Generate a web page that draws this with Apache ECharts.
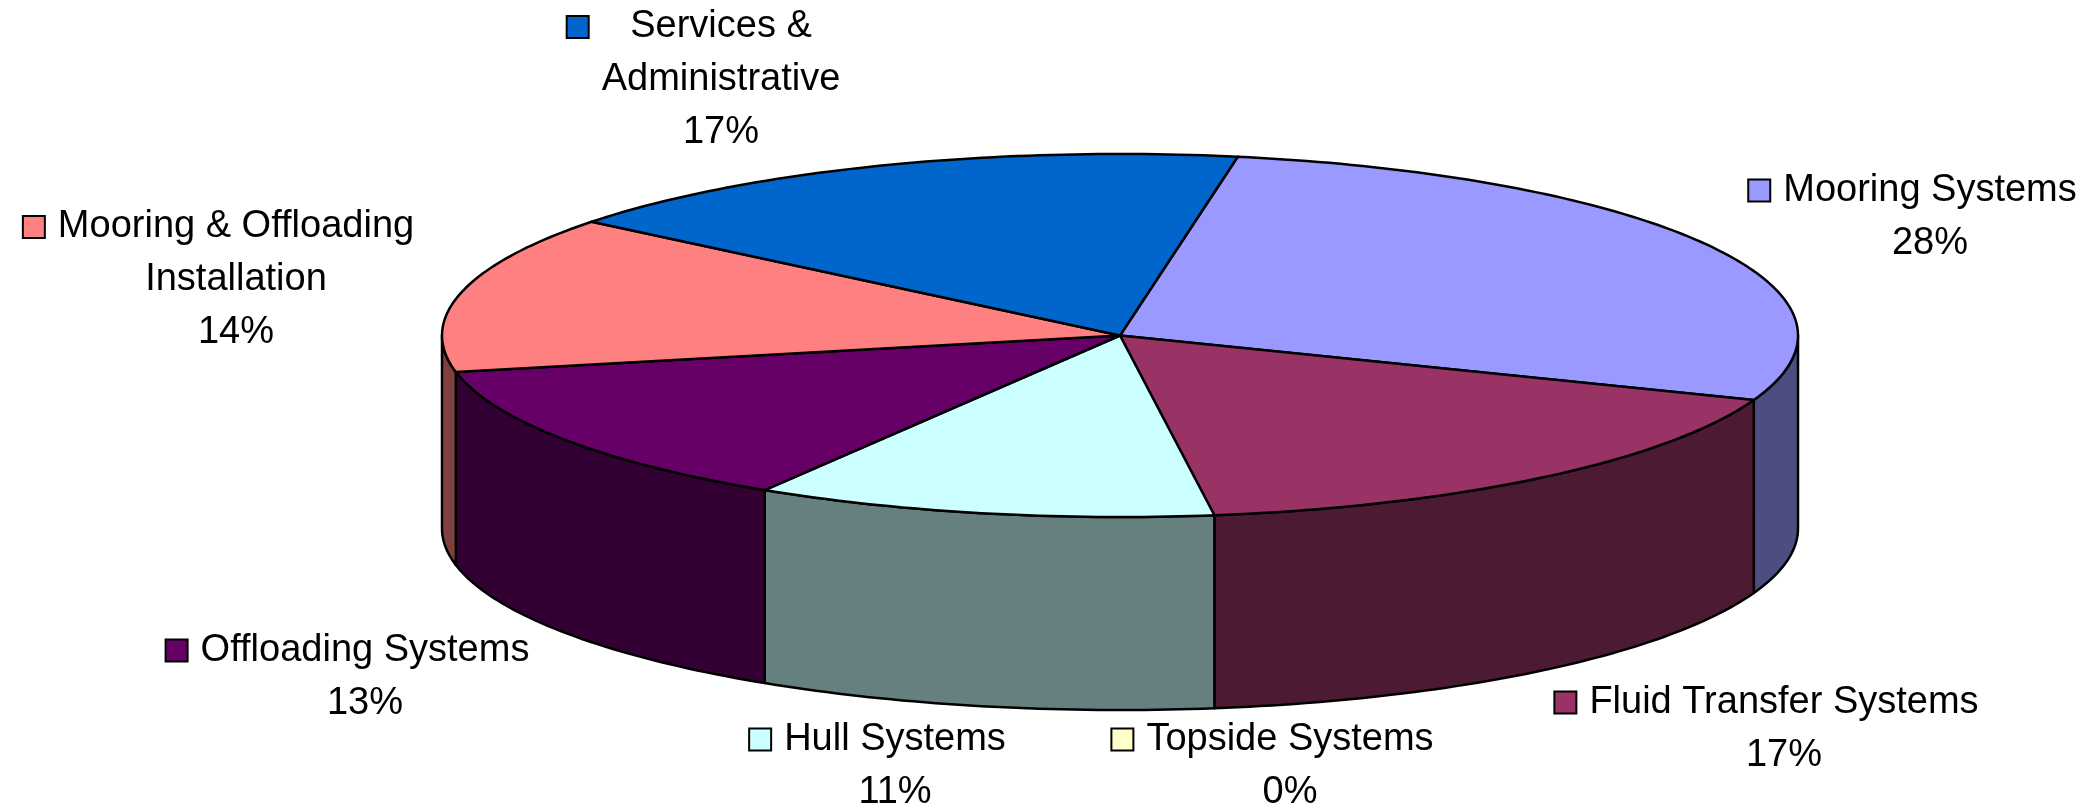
<!DOCTYPE html>
<html>
<head>
<meta charset="utf-8">
<script src="https://cdn.jsdelivr.net/npm/echarts@6/dist/echarts.min.js"></script>
<style>
  html, body { margin: 0; padding: 0; background: #ffffff; }
  #chart { width: 2093px; height: 812px; }
</style>
</head>
<body>
<div id="chart"></div>
<script>
// Cost breakdown by system (percent of total)
const categories = [
  'Mooring Systems',
  'Fluid Transfer Systems',
  'Topside Systems',
  'Hull Systems',
  'Offloading Systems',
  'Mooring & Offloading Installation',
  'Services & Administrative'
];
const labelNames = [
  'Mooring Systems',
  'Fluid Transfer Systems',
  'Topside Systems',
  'Hull Systems',
  'Offloading Systems',
  'Mooring & Offloading\nInstallation',
  'Services &\nAdministrative'
];
const shares = [28, 17, 0, 11, 13, 14, 17];
const colors = ['#9999FF', '#993366', '#FFFFCC', '#CCFFFF', '#660066', '#FF8080', '#0066CC'];

// Layout of the tilted pie (pixels) and where each label block is centred
const PIE = { cx: 1120, cy: 335.5, rx: 678, ry: 181.5, depth: 193, startDeg: 10 };
const labelSpots = [[1930, 217], [1784, 729], [1290, 766], [895, 766], [365, 677], [236, 280], [721, 80]];
const FONT_FAMILY = '"Liberation Sans", Arial, Helvetica, sans-serif';
const FONT_SIZE = 38;
const LINE_H = 53;
const KEY = 22;
const KEY_GAP = 13;
const EDGE_W = 2.5;

const total = shares.reduce((a, b) => a + b, 0);
const bounds = [];
let acc = 0;
shares.forEach(v => {
  const a1 = PIE.startDeg + 360 * acc / total;
  acc += v;
  const a2 = PIE.startDeg + 360 * acc / total;
  bounds.push([a1, a2]);
});

function shade(hex, f) {
  const n = parseInt(hex.slice(1), 16);
  const r = Math.round(((n >> 16) & 255) * f);
  const g = Math.round(((n >> 8) & 255) * f);
  const b = Math.round((n & 255) * f);
  return 'rgb(' + r + ',' + g + ',' + b + ')';
}
function ellipsePt(deg, dy) {
  const t = deg * Math.PI / 180;
  return [PIE.cx + PIE.rx * Math.sin(t), PIE.cy - PIE.ry * Math.cos(t) + (dy || 0)];
}
function arcPts(a1, a2, dy) {
  const pts = [];
  const n = Math.max(2, Math.ceil(Math.abs(a2 - a1)));
  for (let i = 0; i <= n; i++) pts.push(ellipsePt(a1 + (a2 - a1) * i / n, dy));
  return pts;
}

const measureCtx = document.createElement('canvas').getContext('2d');
measureCtx.font = FONT_SIZE + 'px ' + FONT_FAMILY;

const seriesData = shares.map((v, i) => ({ name: categories[i], value: [i, v] }));

const chart = echarts.init(document.getElementById('chart'), null, { renderer: 'canvas' });

chart.setOption({
  backgroundColor: '#ffffff',
  animation: false,
  series: [
    {
      // outer rim of the front half of the disc
      type: 'custom',
      coordinateSystem: 'none',
      silent: true,
      z: 1,
      data: seriesData,
      renderItem: function (params, api) {
        const i = api.value(0);
        if (!(api.value(1) > 0)) return { type: 'group', children: [] };
        const [a1, a2] = bounds[i];
        const lo = Math.max(a1, 90), hi = Math.min(a2, 270);
        if (hi <= lo) return { type: 'group', children: [] };
        const pts = arcPts(lo, hi, 0).concat(arcPts(lo, hi, PIE.depth).reverse());
        return {
          type: 'polygon',
          shape: { points: pts },
          style: { fill: shade(colors[i], 0.5), stroke: '#000000', lineWidth: EDGE_W, lineJoin: 'round' }
        };
      }
    },
    {
      // top faces of the slices
      type: 'custom',
      coordinateSystem: 'none',
      silent: true,
      z: 2,
      data: seriesData,
      renderItem: function (params, api) {
        const i = api.value(0);
        if (!(api.value(1) > 0)) return { type: 'group', children: [] };
        const [a1, a2] = bounds[i];
        const pts = [[PIE.cx, PIE.cy]].concat(arcPts(a1, a2, 0));
        return {
          type: 'polygon',
          shape: { points: pts },
          style: { fill: colors[i], stroke: '#000000', lineWidth: EDGE_W, lineJoin: 'round' }
        };
      }
    },
    {
      // data labels with legend keys
      type: 'custom',
      coordinateSystem: 'none',
      silent: true,
      z: 3,
      data: seriesData,
      renderItem: function (params, api) {
        const i = api.value(0);
        const v = api.value(1);
        const text = labelNames[i] + '\n' + v + '%';
        const lines = text.split('\n');
        let maxW = 0;
        lines.forEach(l => { maxW = Math.max(maxW, measureCtx.measureText(l).width); });
        const [x, y] = labelSpots[i];
        const firstLineY = y - (lines.length - 1) / 2 * LINE_H;
        return {
          type: 'group',
          children: [
            {
              type: 'text',
              x: x,
              y: y,
              style: {
                text: text,
                fill: '#000000',
                fontSize: FONT_SIZE,
                fontFamily: FONT_FAMILY,
                align: 'center',
                verticalAlign: 'middle',
                textAlign: 'center',
                textVerticalAlign: 'middle',
                lineHeight: LINE_H
              }
            },
            {
              type: 'rect',
              shape: {
                x: x - maxW / 2 - KEY_GAP - KEY,
                y: firstLineY - KEY / 2,
                width: KEY,
                height: KEY
              },
              style: { fill: colors[i], stroke: '#000000', lineWidth: 2 }
            }
          ]
        };
      }
    }
  ]
});
</script>
</body>
</html>
